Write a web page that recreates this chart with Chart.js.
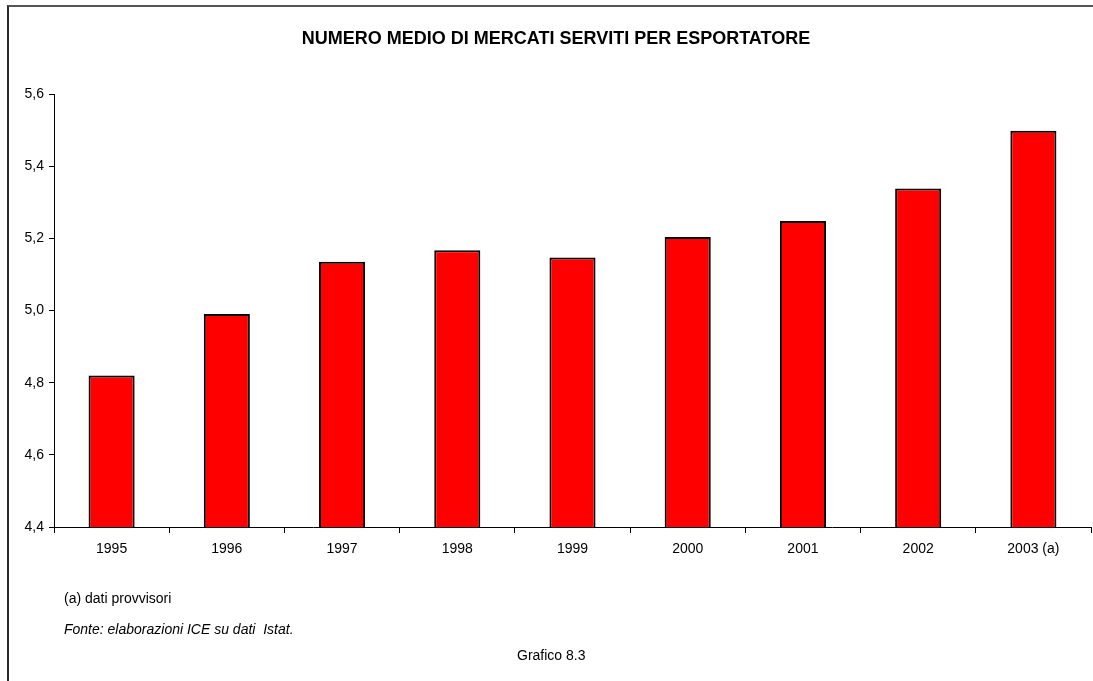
<!DOCTYPE html>
<html>
<head>
<meta charset="utf-8">
<script src="https://cdn.jsdelivr.net/npm/chart.js@4/dist/chart.umd.min.js"></script>
<style>
  html, body { margin: 0; padding: 0; background: #fff; }
  #wrap { position: relative; width: 1093px; height: 681px; overflow: hidden; font-family: "Liberation Sans", Arial, sans-serif; color: #000; }
  #frame { position: absolute; left: 7px; top: 5px; width: 1100px; height: 700px; border-left: 2px solid #2a2a2a; border-top: 2px solid #555; }
  #c { position: absolute; left: 0; top: 0; }
  .txt { position: absolute; white-space: nowrap; font-size: 14px; }
  #title { left: 0; width: 1112px; top: 28px; text-align: center; font-weight: bold; font-size: 18px; }
</style>
</head>
<body>
<div id="wrap">
  <div id="frame"></div>
  <canvas id="c" width="1093" height="681"></canvas>
  <div class="txt" id="title">NUMERO MEDIO DI MERCATI SERVITI PER ESPORTATORE</div>
  <div class="txt" style="left:64px; top:590px;">(a) dati provvisori</div>
  <div class="txt" style="left:64px; top:621px; font-style:italic;">Fonte: elaborazioni ICE su dati&nbsp; Istat.</div>
  <div class="txt" style="left:517px; top:647px;">Grafico 8.3</div>
</div>
<script>
const categories = ["1995", "1996", "1997", "1998", "1999", "2000", "2001", "2002", "2003 (a)"];
const values = [4.82, 4.99, 5.135, 5.167, 5.147, 5.204, 5.248, 5.338, 5.498];
const yTicks = [4.4, 4.6, 4.8, 5.0, 5.2, 5.4, 5.6];

Chart.defaults.font.family = '"Liberation Sans", Arial, sans-serif';
Chart.defaults.font.size = 14;
Chart.defaults.color = '#000';

new Chart(document.getElementById('c'), {
  type: 'bar',
  data: {
    labels: categories,
    datasets: [{
      data: values,
      backgroundColor: '#FF0000',
      borderColor: '#000',
      borderWidth: 2,
      barPercentage: 0.4,
      categoryPercentage: 1.0
    }]
  },
  options: {
    responsive: false,
    animation: false,
    devicePixelRatio: 1,
    layout: { padding: { top: 94, right: 2, bottom: 0, left: 0 } },
    plugins: { legend: { display: false }, title: { display: false }, tooltip: { enabled: false } },
    scales: {
      x: {
        grid: { display: true, drawOnChartArea: false, offset: true, tickLength: 6, color: '#000', lineWidth: 1 },
        border: { display: true, color: '#000', width: 1 },
        ticks: { padding: 8, maxRotation: 0, autoSkip: false },
        afterFit: s => { s.height = 154; }
      },
      y: {
        min: 4.4, max: 5.6,
        afterBuildTicks: s => { s.ticks = yTicks.map(v => ({ value: v })); },
        grid: { display: true, drawOnChartArea: false, tickLength: 5, color: '#000', lineWidth: 1 },
        border: { display: true, color: '#000', width: 1 },
        ticks: { padding: 5, callback: v => Number(v).toFixed(1).replace('.', ',') },
        afterFit: s => { s.width = 54; }
      }
    }
  }
});
</script>
</body>
</html>
